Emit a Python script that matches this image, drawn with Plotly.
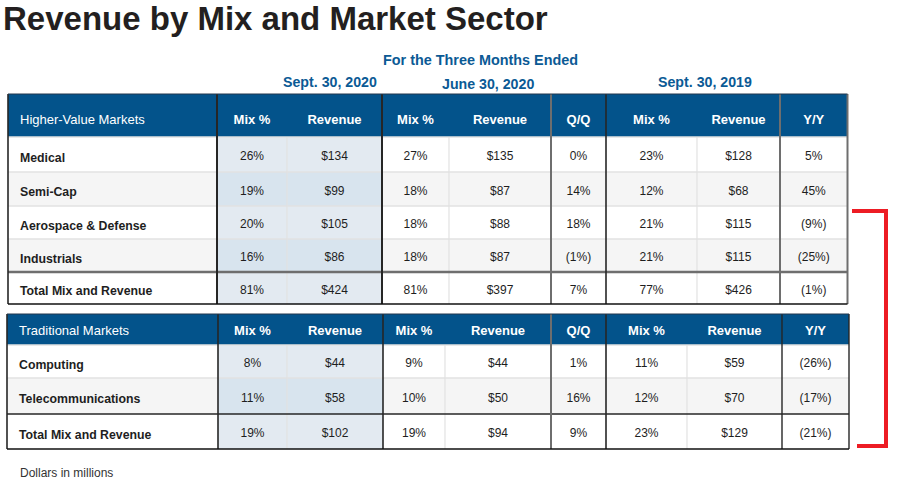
import plotly.graph_objects as go

# ---------------- data ----------------
title_text = "Revenue by Mix and Market Sector"
period_title = "For the Three Months Ended"
periods = ["Sept. 30, 2020", "June 30, 2020", "Sept. 30, 2019"]
col_headers = ["Mix %", "Revenue", "Mix %", "Revenue", "Q/Q", "Mix %", "Revenue", "Y/Y"]

hv_title = "Higher-Value Markets"
hv_sectors = ["Medical", "Semi-Cap", "Aerospace & Defense", "Industrials", "Total Mix and Revenue"]
hv_mix_q3_20 = [26, 19, 20, 16, 81]
hv_rev_q3_20 = [134, 99, 105, 86, 424]
hv_mix_q2_20 = [27, 18, 18, 18, 81]
hv_rev_q2_20 = [135, 87, 88, 87, 397]
hv_qq = [0, 14, 18, -1, 7]
hv_mix_q3_19 = [23, 12, 21, 21, 77]
hv_rev_q3_19 = [128, 68, 115, 115, 426]
hv_yy = [5, 45, -9, -25, -1]

tr_title = "Traditional Markets"
tr_sectors = ["Computing", "Telecommunications", "Total Mix and Revenue"]
tr_mix_q3_20 = [8, 11, 19]
tr_rev_q3_20 = [44, 58, 102]
tr_mix_q2_20 = [9, 10, 19]
tr_rev_q2_20 = [44, 50, 94]
tr_qq = [1, 16, 9]
tr_mix_q3_19 = [11, 12, 23]
tr_rev_q3_19 = [59, 70, 129]
tr_yy = [-26, -17, -21]

footnote = "Dollars in millions"

# ---------------- style / layout ----------------
W, H = 909, 482
FONT = "Liberation Sans, Arial, sans-serif"
BLUE = "#03538B"
HEAD_BLUE = "#0B5A95"
TXT = "#1E1E1E"
SHADE_W = "#E3EAF1"
SHADE_G = "#D8E4EE"
GRAY = "#F5F5F5"
LIGHT_LINE = "#E2E2E2"
DARK = "#262626"
MID = "#6E6E6E"
RED = "#ED1C24"


def pct(v):
    return f"({abs(v)}%)" if v < 0 else f"{v}%"


def usd(v):
    return f"${v}"


def build_columns(sectors, mix1, rev1, mix2, rev2, qq, mix3, rev3, yy):
    return [
        list(sectors),
        [pct(v) for v in mix1],
        [usd(v) for v in rev1],
        [pct(v) for v in mix2],
        [usd(v) for v in rev2],
        [pct(v) for v in qq],
        [pct(v) for v in mix3],
        [usd(v) for v in rev3],
        [pct(v) for v in yy],
    ]


tables = [
    dict(title=hv_title,
         cols=build_columns(hv_sectors, hv_mix_q3_20, hv_rev_q3_20, hv_mix_q2_20, hv_rev_q2_20,
                            hv_qq, hv_mix_q3_19, hv_rev_q3_19, hv_yy),
         x_edges=[8, 217, 287, 382, 449, 551, 606, 697, 780, 847.5],
         header=(94, 137), head_dy=5.3,
         row_edges=[137, 172, 206, 239, 272, 304],
         seps={1: (DARK, 2), 3: (DARK, 2), 5: (MID, 2), 6: (DARK, 1.6), 8: (MID, 2)},
         right=(MID, 2), total_line=(MID, 2.5)),
    dict(title=tr_title,
         cols=build_columns(tr_sectors, tr_mix_q3_20, tr_rev_q3_20, tr_mix_q2_20, tr_rev_q2_20,
                            tr_qq, tr_mix_q3_19, tr_rev_q3_19, tr_yy),
         x_edges=[7, 218, 287, 383, 445, 551, 606, 687, 782, 849],
         header=(314, 345), head_dy=2.7,
         row_edges=[345, 378, 414, 449],
         seps={1: (DARK, 1.6), 3: (DARK, 1.6), 5: (MID, 2), 6: (DARK, 1.6), 8: (DARK, 1.4)},
         right=(DARK, 1.4), total_line=(DARK, 1.5)),
]

fig = go.Figure()
shapes = []


def rect(x0, y0, x1, y1, fill):
    shapes.append(dict(type="rect", xref="x", yref="y", x0=x0, x1=x1, y0=y0, y1=y1,
                       fillcolor=fill, line=dict(width=0), layer="below"))


def line(x0, y0, x1, y1, color, width):
    shapes.append(dict(type="line", xref="x", yref="y", x0=x0, x1=x1, y0=y0, y1=y1,
                       line=dict(color=color, width=width), layer="below"))


for t in tables:
    xe, re_ = t["x_edges"], t["row_edges"]
    n = len(t["cols"][0])
    top, hbot = t["header"]
    bottom = re_[-1]
    # header band
    rect(xe[0], top, xe[-1], hbot, BLUE)
    # body fills
    for ci in range(len(t["cols"])):
        for ri in range(n):
            grey_row = (ri % 2 == 1) and ri != n - 1
            if ci in (1, 2):
                fill = SHADE_G if grey_row else SHADE_W
            else:
                fill = GRAY if grey_row else "white"
            rect(xe[ci], re_[ri], xe[ci + 1], re_[ri + 1], fill)
    # light grid
    for ri in range(0, n - 1):
        line(xe[0], re_[ri], xe[-1], re_[ri], LIGHT_LINE, 1.5)
    for ci in (2, 4, 7):
        line(xe[ci], hbot, xe[ci], bottom, LIGHT_LINE, 1.2)
    # total line
    line(xe[0], re_[n - 1], xe[-1], re_[n - 1], *t["total_line"])
    # group separators
    for ci, (c, w) in t["seps"].items():
        line(xe[ci], top, xe[ci], bottom, c, w)
    # outer border
    line(xe[0], top, xe[0], bottom, DARK, 1.6)
    line(xe[-1], top, xe[-1], bottom, *t["right"])
    line(xe[0], bottom, xe[-1], bottom, "#111111", 1.6)
    line(xe[0], top, xe[-1], top, "#24384F", 1.2)

    # header texts
    hx = [xe[0] + 12] + [(xe[i] + xe[i + 1]) / 2 for i in range(1, len(xe) - 1)]
    hy = [(top + hbot) / 2 + t["head_dy"]] * len(hx)
    fig.add_trace(go.Scatter(
        x=hx, y=hy, mode="text",
        text=[t["title"]] + [f"<b>{c}</b>" for c in col_headers],
        textposition=["middle right"] + ["middle center"] * len(col_headers),
        textfont=dict(family=FONT, size=13, color="white"),
        hoverinfo="skip", showlegend=False))

    # body texts
    centers = [(re_[i] + re_[i + 1]) / 2 for i in range(n)]
    fig.add_trace(go.Scatter(
        x=[xe[0] + 12] * n, y=[c + 4.4 for c in centers], mode="text",
        text=[f"<b>{s}</b>" for s in t["cols"][0]], textposition="middle right",
        textfont=dict(family=FONT, size=12.3, color=TXT),
        hoverinfo="skip", showlegend=False))
    for ci in range(1, len(t["cols"])):
        fig.add_trace(go.Scatter(
            x=[(xe[ci] + xe[ci + 1]) / 2] * n, y=[c + 2.6 for c in centers], mode="text",
            text=t["cols"][ci], textposition="middle center",
            textfont=dict(family=FONT, size=12, color=TXT),
            hoverinfo="skip", showlegend=False))

# red bracket
for x0, y0, x1, y1 in [(852, 211, 888, 211), (886, 209, 886, 448), (857, 446, 888, 446)]:
    shapes.append(dict(type="line", xref="x", yref="y", x0=x0, x1=x1, y0=y0, y1=y1,
                       line=dict(color=RED, width=4)))

annotations = [
    dict(text=f"<b>{title_text}</b>", x=1, y=18, xanchor="left", yanchor="middle",
         font=dict(family=FONT, size=33, color="#231F20")),
    dict(text=f"<b>{period_title}</b>", x=480.5, y=60, xanchor="center", yanchor="middle",
         font=dict(family=FONT, size=14.4, color=HEAD_BLUE)),
    dict(text=f"<b>{periods[0]}</b>", x=330, y=82, xanchor="center", yanchor="middle",
         font=dict(family=FONT, size=14.2, color=HEAD_BLUE)),
    dict(text=f"<b>{periods[1]}</b>", x=488, y=84, xanchor="center", yanchor="middle",
         font=dict(family=FONT, size=14.2, color=HEAD_BLUE)),
    dict(text=f"<b>{periods[2]}</b>", x=705, y=82, xanchor="center", yanchor="middle",
         font=dict(family=FONT, size=14.2, color=HEAD_BLUE)),
    dict(text=footnote, x=18, y=473, xanchor="left", yanchor="middle",
         font=dict(family=FONT, size=12, color="#333333")),
]
for a in annotations:
    a.update(xref="x", yref="y", showarrow=False)

fig.update_layout(
    width=W, height=H, margin=dict(l=0, r=0, t=0, b=0),
    paper_bgcolor="white", plot_bgcolor="white",
    xaxis=dict(range=[0, W], visible=False, fixedrange=True),
    yaxis=dict(range=[H, 0], visible=False, fixedrange=True),
    shapes=shapes, annotations=annotations, showlegend=False)

fig.write_html("out.html", config=dict(displayModeBar=False),
               post_script="document.body.style.margin='0';document.body.style.padding='0';")
